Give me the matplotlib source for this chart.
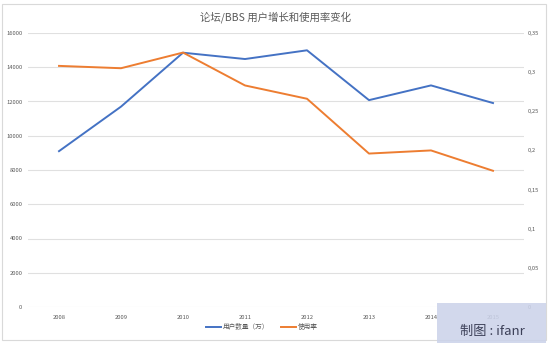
import matplotlib
matplotlib.use('Agg')
import matplotlib.pyplot as plt
from matplotlib.patches import Rectangle

plt.rcParams['font.family'] = ['Noto Sans CJK SC', 'DejaVu Sans']

years = ['2008', '2009', '2010', '2011', '2012', '2013', '2014', '2015']
users = [9100, 11700, 14850, 14480, 14990, 12080, 12940, 11910]
rate = [0.308, 0.305, 0.325, 0.283, 0.266, 0.196, 0.200, 0.174]
left_ticks = [0, 2000, 4000, 6000, 8000, 10000, 12000, 14000, 16000]
right_ticks = [0, 0.05, 0.1, 0.15, 0.2, 0.25, 0.3, 0.35]
right_labels = ['0', '0,05', '0,1', '0,15', '0,2', '0,25', '0,3', '0,35']

blue = '#4472C4'
orange = '#ED7D31'
grey = '#595959'

fig = plt.figure(figsize=(5.5, 3.44), dpi=100)
fig.patch.set_facecolor('white')

# chart area frame inside the sheet
fig.patches.append(Rectangle((2/550, 4/344), 544/550, 336/344, transform=fig.transFigure,
                             fill=False, edgecolor='#d9d9d9', linewidth=0.8))

ax = fig.add_axes([28/550, 1-307/344, 496/550, 274/344])
x = list(range(len(years)))
l1, = ax.plot(x, users, color=blue, linewidth=1.4, label='用户数量（万）')
ax.set_xlim(-0.5, len(years)-0.5)
ax.set_ylim(0, 16000)
ax.set_yticks(left_ticks)
ax.set_xticks(x)
ax.set_xticklabels(years)
ax.grid(axis='y', color='#e0e0e0', linewidth=0.8)
ax.set_axisbelow(True)
for s in ax.spines.values():
    s.set_visible(False)
ax.tick_params(axis='y', length=0, labelsize=4.2, labelcolor=grey, pad=4)
ax.tick_params(axis='x', length=0, labelsize=4.2, labelcolor=grey, pad=6)

ax2 = ax.twinx()
l2, = ax2.plot(x, rate, color=orange, linewidth=1.4, label='使用率')
ax2.set_ylim(0, 0.35)
ax2.set_yticks(right_ticks)
ax2.set_yticklabels(right_labels)
for s in ax2.spines.values():
    s.set_visible(False)
ax2.tick_params(axis='y', length=0, labelsize=4.2, labelcolor=grey, pad=3)

fig.text(276/550, 1-17/344, '论坛/BBS 用户增长和使用率变化', ha='center', va='center',
         fontsize=7.5, color=grey)

fig.legend(handles=[l1, l2], loc='center', bbox_to_anchor=(262/550, 1-327/344),
           ncol=2, frameon=False, fontsize=4.8, labelcolor=grey,
           handlelength=2.2, handletextpad=0.3, columnspacing=1.8)

# ifanr credit block in the corner
fig.patches.append(Rectangle((437/550, 1/344), 109/550, 40/344, transform=fig.transFigure,
                             facecolor='#ccd3ea', edgecolor='none', alpha=0.88, zorder=5))
fig.text(492/550, 1-331/344, '制图 : ifanr', ha='center', va='center',
         fontsize=9.5, color='#3c4058', zorder=6)

fig.savefig('out.png', dpi=100)
